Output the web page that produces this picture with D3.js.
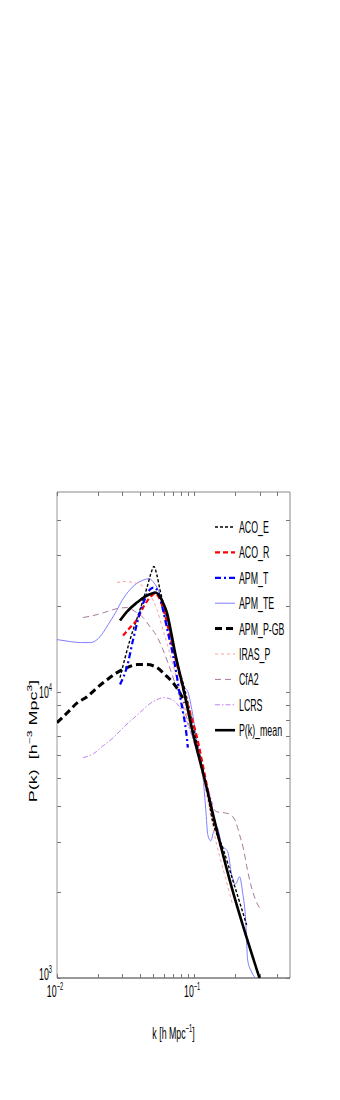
<!DOCTYPE html>
<html><head><meta charset="utf-8">
<script src="https://cdn.jsdelivr.net/npm/d3@7"></script>
<style>body{margin:0;background:#fff}svg{display:block}text{font-family:"Liberation Sans",Arial,sans-serif;fill:#000}</style>
</head><body><svg id="c" width="340" height="1100"></svg>
<script>
// ---- data: [k (h/Mpc), P(k) (h^-3 Mpc^3)] ----
const ACO_E = [[0.0288,11220],[0.0341,15240],[0.0403,19410],[0.0453,23170],[0.0484,25940],[0.0509,27450],[0.0536,25530],[0.0563,22800],[0.0633,18340],[0.0689,15240],[0.0761,12460],[0.0855,10190],[0.1012,7088],[0.1195,5012],[0.1368,3516],[0.1617,2851],[0.1911,2203],[0.2415,1533]];
const ACO_R = [[0.0303,15740],[0.0341,16790],[0.0383,17910],[0.0424,19720],[0.0476,21380],[0.0518,22080],[0.0563,21040],[0.0612,18640],[0.0665,15870],[0.0723,13400],[0.0828,10350],[0.0929,8531],[0.1046,6975],[0.1195,5135],[0.1368,3720],[0.1590,2805]];
const APM_T = [[0.0288,10610],[0.0324,12260],[0.0359,15240],[0.0403,18950],[0.0446,21550],[0.0476,22800],[0.0509,23170],[0.0545,22440],[0.0592,19410],[0.0644,16130],[0.0700,13510],[0.0749,11310],[0.0786,9784],[0.0828,8531],[0.0871,7379],[0.0900,6383]];
const APM_TE = [[0.0100,15240],[0.0125,15000],[0.0148,14880],[0.0175,14880],[0.0196,15240],[0.0217,16130],[0.0236,17200],[0.0265,18790],[0.0298,20870],[0.0341,22800],[0.0390,24130],[0.0438,24720],[0.0469,24920],[0.0501,24320],[0.0545,22800],[0.0592,20210],[0.0644,17200],[0.0700,14060],[0.0786,11500],[0.0855,10350],[0.0900,10020],[0.0962,8670],[0.1046,6808],[0.1157,5135],[0.1216,3873],[0.1258,3166],[0.1323,3017],[0.1391,3270],[0.1462,3378],[0.1590,2921],[0.1758,2761],[0.1879,2294],[0.2009,2133],[0.2145,2257],[0.2259,1984],[0.2375,1596],[0.2456,1156],[0.2626,1049],[0.2808,1000]];
const APM_P_GB = [[0.0100,7808],[0.0119,8463],[0.0141,9173],[0.0166,9627],[0.0196,10350],[0.0232,11040],[0.0274,11680],[0.0324,12160],[0.0383,12460],[0.0453,12460],[0.0536,12160],[0.0612,11500],[0.0700,10780],[0.0786,9945],[0.0855,9173]];
const IRAS_P = [[0.0274,24130],[0.0314,24320],[0.0359,24130],[0.0417,23550],[0.0476,21900],[0.0536,19410],[0.0592,16520],[0.0644,14410],[0.0700,12460],[0.0786,10190],[0.0929,7684],[0.1099,5567],[0.1299,3873],[0.1462,2921],[0.1670,2294],[0.1911,1801]];
const CfA2 = [[0.0155,18200],[0.0196,18640],[0.0232,19100],[0.0274,19560],[0.0324,19720],[0.0371,19100],[0.0424,18200],[0.0476,16920],[0.0536,15620],[0.0592,14060],[0.0644,12660],[0.0723,10780],[0.0855,8531],[0.1012,6540],[0.1195,4932],[0.1345,4033],[0.1462,3811],[0.1670,3780],[0.1848,3720],[0.2009,3516],[0.2145,3166],[0.2297,2805],[0.2415,2466],[0.2626,2065],[0.2808,1875],[0.2997,1758]];
const LCRS = [[0.0155,5888],[0.0184,6081],[0.0217,6486],[0.0257,6918],[0.0303,7499],[0.0359,8064],[0.0424,8670],[0.0476,9099],[0.0536,9397],[0.0592,9550],[0.0665,9474],[0.0749,9099],[0.0828,8463],[0.0929,7379],[0.1046,6180],[0.1195,5012],[0.1368,4033]];
const P_MEAN = [[0.0288,17770],[0.0324,19100],[0.0383,20540],[0.0438,21550],[0.0493,22080],[0.0518,22260],[0.0563,21550],[0.0592,20540],[0.0633,18950],[0.0689,15620],[0.0723,13840],[0.0828,10430],[0.0979,7203],[0.1195,4932],[0.1462,3296],[0.1815,2203],[0.2997,1000]];

const seriesNames = ["ACO_E","ACO_R","APM_T","APM_TE","APM_P-GB","IRAS_P","CfA2","LCRS","P(k)_mean"];
const seriesData = [ACO_E, ACO_R, APM_T, APM_TE, APM_P_GB, IRAS_P, CfA2, LCRS, P_MEAN];

const xDomain = [0.01, 0.5];
const yDomain = [1000, 50000];
const xMajorTicks = [0.01, 0.1];
const xMinorTicks = [0.02,0.03,0.04,0.05,0.06,0.07,0.08,0.09,0.2,0.3,0.4];
const yMajorTicks = [1000, 10000];
const yMinorTicks = [2000,3000,4000,5000,6000,7000,8000,9000,20000,30000,40000];
const xTickLabels = [["10","\u22122"],["10","\u22121"]];
const yTickLabels = [["10","3"],["10","4"]];

// ---- styles ----
const styles = [
  {c:"#000", w:1.4, d:"3,2"},
  {c:"#ff0000", w:2.2, d:"5,3"},
  {c:"#0000ff", w:2.2, d:"6,3,2,3"},
  {c:"#7f7fff", w:1, d:null},
  {c:"#000", w:3, d:"7,4"},
  {c:"#ff9f9f", w:1, d:"3,3"},
  {c:"#a8789c", w:1, d:"6,4"},
  {c:"#bf80f0", w:1, d:"5,2,1.5,2"},
  {c:"#000", w:2.6, d:null}
];

const svg = d3.select("#c");
const L=57, R=290, T=492, B=978;
const x = d3.scaleLog().domain(xDomain).range([L,R]);
const y = d3.scaleLog().domain(yDomain).range([B,T]);
const SX = 0.55;

svg.append("defs").append("clipPath").attr("id","clip")
  .append("rect").attr("x",L).attr("y",T).attr("width",R-L).attr("height",B-T);

// axes box
svg.append("line").attr("x1",L).attr("x2",R).attr("y1",T).attr("y2",T).attr("stroke","#888");
svg.append("line").attr("x1",R).attr("x2",R).attr("y1",T).attr("y2",B).attr("stroke","#888");
svg.append("line").attr("x1",L).attr("x2",L).attr("y1",T).attr("y2",B).attr("stroke","#999");
svg.append("line").attr("x1",L).attr("x2",R).attr("y1",B).attr("y2",B).attr("stroke","#333");

// ticks (inward) on all four sides
const allX = xMajorTicks.concat(xMinorTicks), allY = yMajorTicks.concat(yMinorTicks);
const tk = svg.append("g").attr("stroke","#777").attr("stroke-width",1);
allX.forEach(v=>{
  const px = Math.round(x(v))+0.5;
  tk.append("line").attr("x1",px).attr("x2",px).attr("y1",B).attr("y2",B-4);
  tk.append("line").attr("x1",px).attr("x2",px).attr("y1",T).attr("y2",T+4);
});
allY.forEach(v=>{
  const py = Math.round(y(v))+0.5;
  tk.append("line").attr("x1",L).attr("x2",L+4).attr("y1",py).attr("y2",py);
  tk.append("line").attr("x1",R).attr("x2",R-4).attr("y1",py).attr("y2",py);
});

// tick labels
function supText(g, base, sup, size){
  const t = g.append("text").attr("font-size",size);
  t.append("tspan").text(base);
  t.append("tspan").attr("font-size",size*0.65).attr("dy",-size*0.45).text(sup);
  return t;
}
xMajorTicks.forEach((v,i)=>{
  const g = svg.append("g").attr("transform",`translate(${x(v)-2},997) scale(${SX},1)`);
  supText(g, xTickLabels[i][0], xTickLabels[i][1], 16).attr("text-anchor","middle");
});
yMajorTicks.forEach((v,i)=>{
  const yy = i===0 ? 980 : y(v)+6;
  const g = svg.append("g").attr("transform",`translate(52,${yy}) scale(${SX},1)`);
  supText(g, yTickLabels[i][0], yTickLabels[i][1], 16).attr("text-anchor","end");
});

// axis titles
{
  const g = svg.append("g").attr("transform",`translate(${(L+R)/2},1039) scale(${SX},1)`);
  const t = g.append("text").attr("font-size",16).attr("text-anchor","middle");
  t.append("tspan").text("k [h Mpc");
  t.append("tspan").attr("font-size",10.5).attr("dy",-7).text("\u22121");
  t.append("tspan").attr("dy",7).text("]");
}
{
  const g = svg.append("g").attr("transform",`translate(37,741) rotate(-90) scale(1,0.6)`);
  const t = g.append("text").attr("font-size",18).attr("text-anchor","middle");
  t.append("tspan").text("P(k)\u00a0\u00a0[h");
  t.append("tspan").attr("font-size",12).attr("dy",-8).text("\u22123");
  t.append("tspan").attr("dy",8).text(" Mpc");
  t.append("tspan").attr("font-size",12).attr("dy",-8).text("3");
  t.append("tspan").attr("dy",8).text("]");
}

// series
const line = d3.line().x(d=>x(d[0])).y(d=>y(d[1])).curve(d3.curveMonotoneX);
const plot = svg.append("g").attr("clip-path","url(#clip)");
const order = [3,5,6,7,4,0,1,2,8];
order.forEach(i=>{
  const s = styles[i];
  plot.append("path").datum(seriesData[i]).attr("d",line)
    .attr("fill","none").attr("stroke",s.c).attr("stroke-width",s.w)
    .attr("stroke-dasharray",s.d).attr("stroke-linejoin","round");
});

// legend
const lg = svg.append("g");
seriesNames.forEach((n,i)=>{
  const yy = 527 + i*25.4;
  const s = styles[i];
  lg.append("line").attr("x1",215).attr("x2",235).attr("y1",yy).attr("y2",yy)
    .attr("stroke",s.c).attr("stroke-width",s.w).attr("stroke-dasharray",s.d);
  lg.append("g").attr("transform",`translate(239,${yy+6}) scale(${SX},1)`)
    .append("text").attr("font-size",16).text(n);
});
</script></body></html>
